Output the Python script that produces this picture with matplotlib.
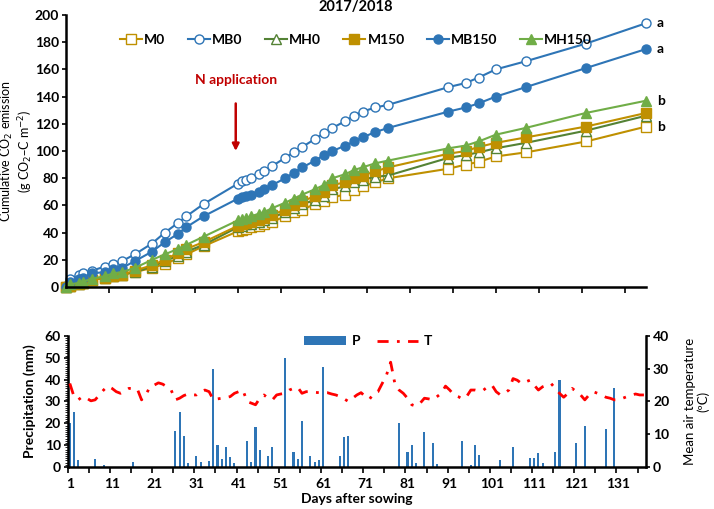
import matplotlib.pyplot as plt
from matplotlib.ticker import MultipleLocator

plt.rcParams['font.family'] = ['Lato', 'DejaVu Sans']

# sampling days for cumulative CO2
days = [0, 1, 3, 4, 6, 9, 11, 13, 16, 20, 23, 26, 28, 32, 40, 41, 42, 43, 45, 46, 48,
        51, 53, 55, 58, 60, 62, 65, 67, 69, 72, 75, 89, 93, 96, 100, 107, 121, 135]

m0 = [0, 1, 2, 3, 5, 7, 8, 9, 11, 14, 17, 21, 24, 30, 41, 42, 43, 44, 45, 46, 48,
      52, 55, 57, 61, 63, 66, 68, 71, 74, 77, 80, 87, 90, 92, 96, 99, 107, 118]
mb0 = [1, 6, 9, 10, 12, 15, 17, 19, 24, 32, 40, 47, 52, 61, 76, 78, 79, 80, 83, 85, 89,
       95, 99, 103, 109, 113, 117, 122, 126, 129, 132, 134, 147, 150, 154, 160, 166, 179, 194]
mh0 = [0, 1, 2, 3, 5, 7, 8, 9, 11, 15, 19, 23, 26, 31, 44, 45, 46, 46, 48, 49, 51,
       55, 58, 61, 64, 67, 72, 74, 77, 79, 81, 82, 95, 97, 99, 102, 106, 115, 126]
m150 = [0, 1, 2, 3, 5, 7, 8, 9, 12, 16, 20, 25, 28, 33, 45, 46, 47, 48, 49, 51, 53,
        57, 60, 63, 67, 70, 75, 77, 80, 82, 85, 88, 98, 100, 103, 106, 110, 118, 128]
mb150 = [0, 4, 6, 7, 10, 11, 13, 14, 19, 26, 33, 39, 44, 52, 65, 66, 67, 68, 70, 72, 75,
         80, 84, 88, 93, 97, 100, 104, 107, 110, 114, 117, 129, 132, 135, 140, 147, 161, 175]
mh150 = [0, 2, 3, 4, 6, 8, 10, 11, 14, 20, 24, 28, 31, 37, 49, 50, 51, 52, 54, 55, 58,
         62, 65, 68, 72, 75, 80, 83, 86, 88, 91, 93, 102, 104, 107, 112, 117, 128, 137]

# daily precipitation (mm), only rainy days
rain_days = [1, 2, 3, 7, 9, 16, 26, 27, 28, 29, 31, 32, 34, 35, 36, 37, 38, 39, 40,
             43, 44, 45, 46, 48, 49, 52, 54, 55, 56, 58, 59, 60, 61, 65, 66, 67,
             79, 81, 82, 83, 85, 87, 88, 94, 96, 97, 98, 103, 106, 110, 111, 112, 113,
             116, 117, 121, 123, 128, 130]
rain_mm = [20, 25, 3, 3.6, 1, 2.3, 16.5, 25, 14, 1.8, 4.9, 2.3, 2.6, 44.8, 10.2, 3.6, 9, 4.4, 1.8,
           12, 2.3, 18.5, 7.6, 4.9, 9, 50, 6.8, 3.6, 21.1, 4.9, 2.3, 3.3, 45.9, 4.9, 13.7, 14,
           20, 6.8, 9.9, 1.8, 16, 10.9, 1.4, 12, 0.9, 9.9, 5.3, 3.3, 9, 3.9, 3.9, 6.4, 1.8,
           7.1, 39.8, 10.9, 18.8, 17.3, 36.2]

# daily mean air temperature (ºC), days 1-137
temp = [25.5, 21.5, 20.5, 21.5, 21.0, 20.2, 20.5, 22.0, 23.5, 24.7,
        24.0, 23.0, 22.5, 23.2, 24.0, 24.0, 23.8, 20.5, 22.0, 24.5,
        25.0, 25.7, 25.3, 24.5, 23.5, 20.5, 21.0, 21.8, 22.3, 22.0,
        22.0, 23.0, 23.5, 23.0, 20.5, 20.8, 21.0, 21.2, 21.5, 22.5,
        23.0, 23.5, 20.0, 19.5, 19.0, 21.0, 22.0, 21.0, 20.5, 22.0,
        22.3, 22.5, 23.5, 24.0, 24.3, 22.5, 23.0, 23.0, 22.8, 22.7,
        22.7, 22.7, 22.3, 22.0, 21.5, 20.8, 20.0, 21.0, 22.0, 22.7,
        21.5, 20.7, 22.5, 23.0, 25.5, 28.0, 32.0, 25.5, 23.5, 22.5,
        21.0, 19.0, 18.6, 19.5, 21.0, 20.8, 20.5, 21.5, 22.5, 24.7,
        23.5, 22.0, 21.5, 20.8, 21.5, 23.5, 23.5, 23.2, 23.5, 24.5,
        25.0, 23.0, 22.0, 22.5, 23.5, 27.0, 26.5, 25.5, 26.0, 26.5,
        25.0, 23.5, 24.5, 25.0, 25.5, 24.0, 22.5, 21.3, 22.5, 24.0,
        23.0, 22.0, 20.5, 22.0, 23.0, 22.5, 22.0, 21.3, 21.0, 20.5,
        20.5, 21.0, 21.5, 21.8, 22.3, 22.0, 22.0]
temp_days = list(range(1, len(temp) + 1))

blue = '#2E75B6'
gold = '#BF9000'
dgreen = '#548235'
lgreen = '#70AD47'
red = '#C00000'

fs = 10  # base font size
lfs = 9.5  # axis label size

fig = plt.figure(figsize=(7.14, 5.09), dpi=100)

# ---------- top panel ----------
ax = fig.add_axes([0.0924, 0.4361, 0.8126, 0.5344])
ms = 6.5
lw = 1.5
ax.plot(days, m0, '-s', color=gold, mfc='white', mec=gold, ms=ms, lw=lw, label='M0')
ax.plot(days, mb0, '-o', color=blue, mfc='white', mec=blue, ms=ms, lw=lw, label='MB0')
ax.plot(days, mh0, '-^', color=dgreen, mfc='white', mec=dgreen, ms=ms, lw=lw, label='MH0')
ax.plot(days, m150, '-s', color=gold, ms=ms, lw=lw, label='M150')
ax.plot(days, mb150, '-o', color=blue, ms=ms, lw=lw, label='MB150')
ax.plot(days, mh150, '-^', color=lgreen, ms=ms, lw=lw, label='MH150')

ax.set_xlim(0, 135)
ax.set_ylim(0, 200)
ax.xaxis.set_major_locator(MultipleLocator(10))
ax.yaxis.set_major_locator(MultipleLocator(20))
ax.tick_params(axis='x', labelbottom=False, length=4, width=1.2, direction='out')
ax.tick_params(axis='y', labelsize=fs, length=3, width=1.2, pad=2)
for t in ax.get_yticklabels():
    t.set_fontweight('bold')
for s in ['top', 'right']:
    ax.spines[s].set_visible(False)
for s in ['left', 'bottom']:
    ax.spines[s].set_linewidth(1.8)
for ln in ax.get_lines():
    ln.set_clip_on(False)

ax.set_ylabel('Cumulative CO$_2$ emission\n(g CO$_2$\u2013C m$^{-2}$)', fontsize=9,
              linespacing=1.05)
ax.yaxis.set_label_coords(-0.054, 0.5)
ax.set_title('2017/2018', fontsize=10.5, fontweight='bold', pad=3)

ax.legend(ncol=6, loc='upper center', bbox_to_anchor=(0.5, 0.975), frameon=False,
          handlelength=1.6, columnspacing=1.6, handletextpad=0.15,
          prop={'weight': 'bold', 'size': fs})

ax.text(39.5, 152, 'N application', color=red, fontsize=fs, fontweight='bold',
        ha='center', va='center')
ax.annotate('', xy=(39.5, 98), xytext=(39.5, 137),
            arrowprops=dict(arrowstyle='-|>', color=red, lw=1.8, mutation_scale=10))

for yv, lab in [(mb0[-1], 'a'), (mb150[-1], 'a'), (mh150[-1], 'b'), (m0[-1], 'b')]:
    ax.text(137.5, yv, lab, fontsize=fs, fontweight='bold', va='center', ha='left')

# ---------- bottom panel ----------
bx = fig.add_axes([0.0948, 0.0825, 0.8100, 0.2574])
bars = bx.bar(rain_days, rain_mm, width=0.5, color=blue, label='P')
bx.set_xlim(0.5, 137.5)
bx.set_ylim(0, 60)
bx.yaxis.set_major_locator(MultipleLocator(10))
bx.yaxis.set_minor_locator(MultipleLocator(1))
bx.set_xticks(list(range(1, 137, 10)))
bx.set_xticks([0.5 + 5 * i for i in range(28)], minor=True)
bx.tick_params(axis='x', which='major', length=0, labelsize=fs, pad=8)
bx.tick_params(axis='x', which='minor', length=4, width=1.2)
bx.tick_params(axis='y', which='major', labelsize=fs, length=3, width=1.2, pad=2)
bx.tick_params(axis='y', which='minor', length=2, width=0.6)
for t in bx.get_xticklabels() + bx.get_yticklabels():
    t.set_fontweight('bold')
bx.spines['top'].set_visible(False)
bx.spines['right'].set_visible(False)
for s in ['left', 'bottom']:
    bx.spines[s].set_linewidth(1.8)
bx.set_ylabel('Precipitation (mm)', fontsize=fs, fontweight='bold')
bx.yaxis.set_label_coords(-0.055, 0.5)
bx.set_xlabel('Days after sowing', fontsize=fs, fontweight='bold', labelpad=2)

tx = bx.twinx()
tline, = tx.plot(temp_days, temp, color='#FF0000', lw=2, label='T',
                 dashes=[4, 3, 1, 3])
tx.set_ylim(0, 40)
tx.set_xlim(0.5, 137.5)
tx.yaxis.set_major_locator(MultipleLocator(10))
tx.tick_params(axis='y', labelsize=fs, length=3, width=1.2, pad=2)
for t in tx.get_yticklabels():
    t.set_fontweight('bold')
tx.spines['top'].set_visible(False)
tx.spines['left'].set_visible(False)
tx.spines['bottom'].set_visible(False)
tx.spines['right'].set_linewidth(1.8)
tx.set_ylabel('Mean air temperature\n(ºC)', fontsize=lfs, linespacing=1.1)
tx.yaxis.set_label_coords(1.066, 0.5)

bx.legend([bars, tline], ['P', 'T'], ncol=2, loc='upper center',
          bbox_to_anchor=(0.52, 1.1), frameon=False, handlelength=3.0,
          columnspacing=1.2, handletextpad=0.4, prop={'weight': 'bold', 'size': fs})

fig.savefig('out.png', dpi=100)
